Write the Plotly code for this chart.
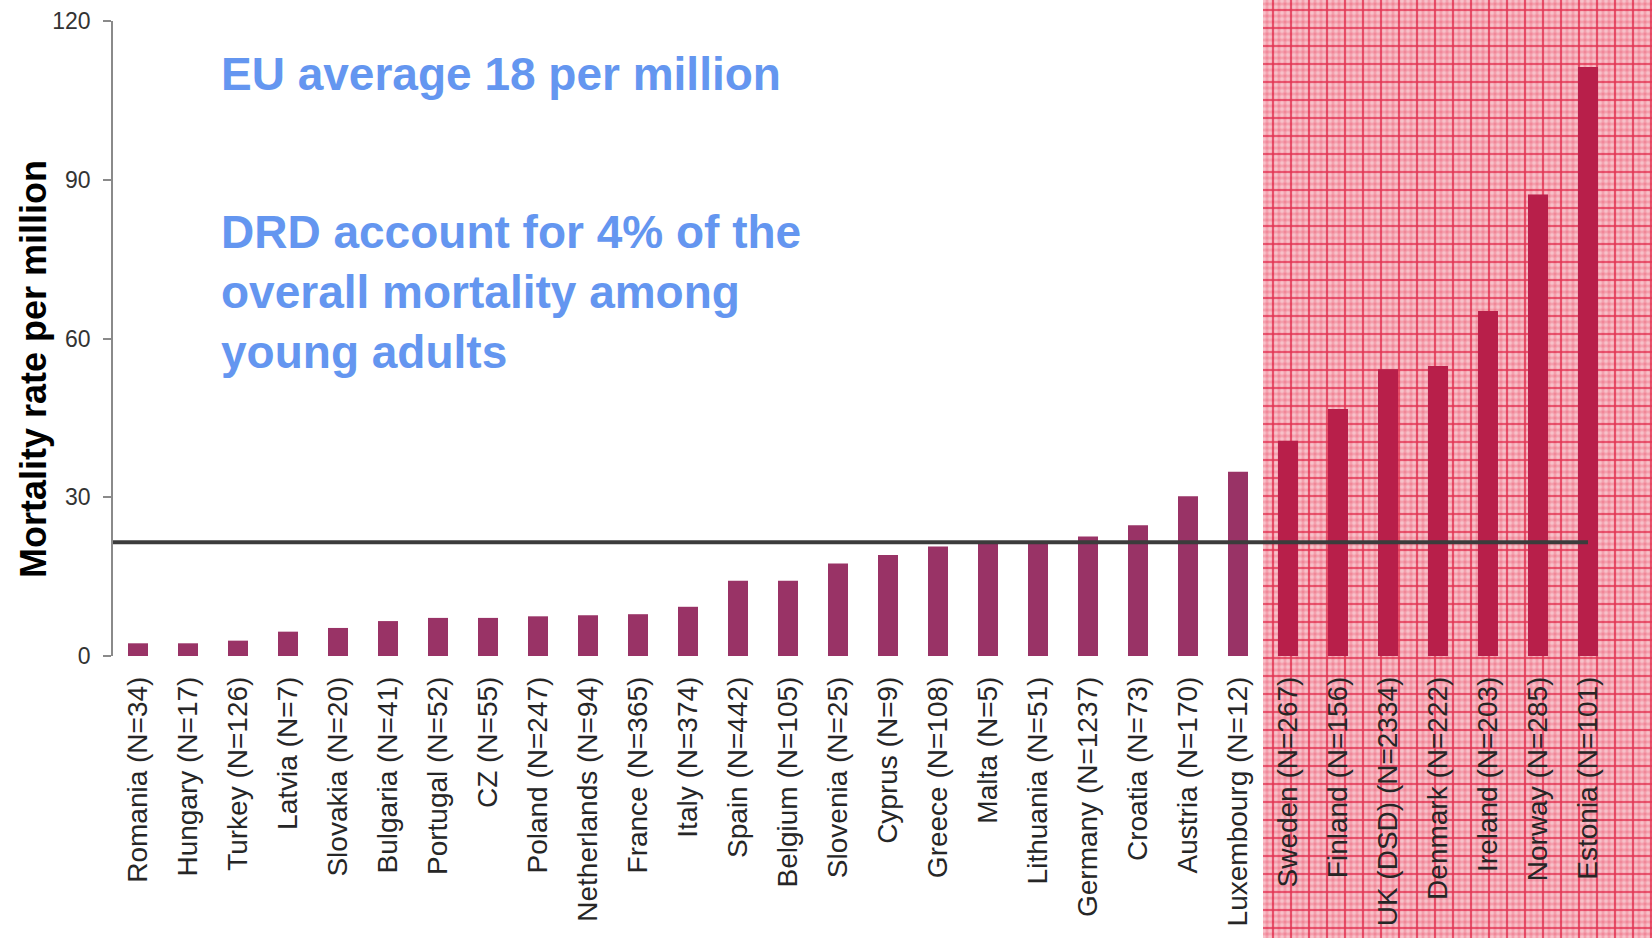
import plotly.graph_objects as go

# ---------------- data ----------------
countries = [
    "Romania (N=34)", "Hungary (N=17)", "Turkey (N=126)", "Latvia (N=7)",
    "Slovakia (N=20)", "Bulgaria (N=41)", "Portugal (N=52)", "CZ (N=55)",
    "Poland (N=247)", "Netherlands (N=94)", "France (N=365)", "Italy (N=374)",
    "Spain (N=442)", "Belgium (N=105)", "Slovenia (N=25)", "Cyprus (N=9)",
    "Greece (N=108)", "Malta (N=5)", "Lithuania (N=51)", "Germany (N=1237)",
    "Croatia (N=73)", "Austria (N=170)", "Luxembourg (N=12)",
    "Sweden (N=267)", "Finland (N=156)", "UK (DSD) (N=2334)", "Denmark (N=222)",
    "Ireland (N=203)", "Norway (N=285)", "Estonia (N=101)",
]
rates = [
    2.4, 2.4, 2.9, 4.6, 5.3, 6.6, 7.2, 7.2, 7.5, 7.7, 7.9, 9.3,
    14.2, 14.2, 17.5, 19.1, 20.7, 21.2, 21.4, 22.6, 24.7, 30.2, 34.8,
    40.7, 46.7, 54.2, 54.8, 65.2, 87.2, 111.3,
]
highlighted = countries[23:]          # countries in the highlighted (red) zone
reference_level = 21.5                # horizontal reference line
y_ticks = [0, 30, 60, 90, 120]

# ---------------- geometry / style ----------------
W, H = 1652, 938
PL, PR, PT, PB = 113, 1613, 21, 656   # plot area in px


def px_x(v):
    return v / W


def px_y(v):
    return 1 - v / H


PURPLE = "#993366"
CRIMSON = "#B81F4A"
BLUE = "#6496F0"

colors = [CRIMSON if c in highlighted else PURPLE for c in countries]

fig = go.Figure()
fig.add_trace(go.Bar(
    x=countries, y=rates, marker=dict(color=colors, line=dict(width=0)),
    width=0.4, showlegend=False, hoverinfo="x+y",
))

# ---------------- highlighted zone background (plaid pattern) ----------------
zone_left = PL + (len(countries) - len(highlighted)) * (PR - PL) / len(countries)
shapes = [dict(type="rect", xref="paper", yref="paper",
               x0=px_x(zone_left), x1=1, y0=0, y1=1,
               fillcolor="#F4A6B2", line=dict(width=0), layer="below")]


def grid_path(step, offset):
    segs = []
    xv = zone_left + offset
    while xv < W:
        segs.append(f"M{px_x(xv):.5f},0 L{px_x(xv):.5f},1")
        xv += step
    yv = offset
    while yv < H:
        segs.append(f"M{px_x(zone_left):.5f},{px_y(yv):.5f} L1,{px_y(yv):.5f}")
        yv += step
    return " ".join(segs)


for step, off, col, wid in [
    (3, 1, "rgba(255,255,255,0.5)", 0.7),
    (6, 4, "rgba(232,50,80,0.45)", 1.0),
    (18, 10, "rgba(220,20,55,0.7)", 1.6),
]:
    shapes.append(dict(type="path", xref="paper", yref="paper",
                       path=grid_path(step, off),
                       line=dict(color=col, width=wid), layer="below"))

# reference line
shapes.append(dict(type="line", xref="x", yref="y",
                   x0=-0.5, x1=len(countries) - 1, y0=reference_level, y1=reference_level,
                   line=dict(color="#3C3C3C", width=4), layer="above"))

annotations = [
    dict(text="<b>Mortality rate per million</b>", xref="paper", yref="paper",
         x=px_x(33), y=px_y(369), textangle=-90, showarrow=False,
         xanchor="center", yanchor="middle",
         font=dict(family="Liberation Sans, Arial", size=36, color="#000000")),
    dict(text="<b>EU average 18 per million</b>", xref="paper", yref="paper",
         x=px_x(219), y=px_y(74), showarrow=False, xanchor="left", yanchor="middle",
         font=dict(family="Liberation Sans, Arial", size=46, color=BLUE)),
    dict(text="<b>DRD account for 4% of the<br>overall mortality among<br>young adults</b>",
         xref="paper", yref="paper", align="left",
         x=px_x(219), y=px_y(292), showarrow=False, xanchor="left", yanchor="middle",
         font=dict(family="Liberation Sans, Arial", size=46, color=BLUE)),
]

fig.update_layout(
    width=W, height=H, template="none",
    margin=dict(l=0, r=0, t=0, b=0, pad=0),
    paper_bgcolor="white", plot_bgcolor="rgba(0,0,0,0)",
    shapes=shapes, annotations=annotations, bargap=0.6,
    font=dict(family="Liberation Sans, Arial", color="#262626"),
)
fig.update_xaxes(
    domain=[px_x(PL), px_x(PR)], range=[-0.5, len(countries) - 0.5],
    tickangle=-90, tickfont=dict(size=28, color="#262626"),
    showline=False, showgrid=False, zeroline=False, ticks="",
    automargin=False, ticklabelstandoff=14,
)
fig.update_yaxes(
    domain=[px_y(PB), px_y(PT)], range=[0, 120], tickvals=y_ticks,
    tickfont=dict(size=23, color="#333333"),
    showline=True, linecolor="#8A8A8A", linewidth=1.5,
    ticks="outside", ticklen=8, tickcolor="#8A8A8A", tickwidth=1.5,
    showgrid=False, zeroline=False, automargin=False, ticklabelstandoff=8,
)

fig.write_html("out.html", config={"displayModeBar": False},
               post_script="document.body.style.margin='0';document.body.style.overflow='hidden';")
